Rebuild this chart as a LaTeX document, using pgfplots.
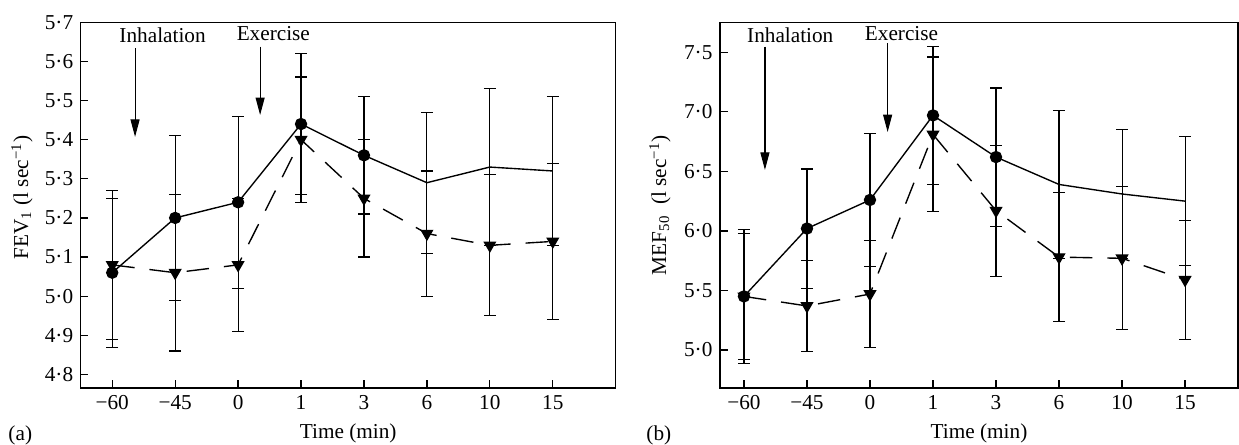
\documentclass[border=0pt]{standalone}
\usepackage{fontspec}
\setmainfont{Liberation Serif}
\usepackage{pgfplots}
\usepackage{pgfplotstable}
\pgfplotsset{compat=1.18}
\usetikzlibrary{arrows.meta}

% x is the category index: -60,-45,0,1,3,6,10,15 min
\pgfplotstableread{
x y e
0 5.06 0.19
1 5.20 0.21
2 5.24 0.22
3 5.44 0.18
4 5.36 0.15
5 5.29 0.18
6 5.33 0.20
7 5.32 0.19
}\fevcirc
\pgfplotstableread{
x y e
0 5.08 0.19
1 5.06 0.20
2 5.08 0.17
3 5.40 0.16
4 5.25 0.15
5 5.16 0.16
6 5.13 0.18
7 5.14 0.20
}\fevtri
\pgfplotstableread{
x y e
0 5.45 0.56
1 6.02 0.50
2 6.26 0.56
3 6.97 0.58
4 6.62 0.58
5 6.39 0.62
6 6.31 0.54
7 6.25 0.54
}\mefcirc
\pgfplotstableread{
x y e
0 5.45 0.53
1 5.37 0.38
2 5.47 0.45
3 6.81 0.65
4 6.17 0.55
5 5.78 0.54
6 5.77 0.60
7 5.59 0.50
}\meftri

\pgfplotsset{
  panel/.style={
    scale only axis, height=146.2pt, clip=false,
    axis line style={line width=0.6pt},
    tick style={black, line width=0.5pt},
    major tick length=3.1pt, tick align=inside,
    xtick pos=bottom, ytick pos=left,
    xtick={0,...,7},
    xticklabels={−60,−45,0,1,3,6,10,15},
    xlabel={Time (min)},
    xlabel style={at={(axis description cs:0.5,-0.124)}, anchor=center},
  },
  circ/.style={black, line width=0.55pt, mark=*, mark size=2.2pt,
    mark indices={1,2,3,4,5},
    error bars/.cd, y dir=both, y explicit,
    error bar style={line width=0.45pt, solid},
    error mark options={rotate=90, mark size=2.4pt, line width=0.45pt, solid}},
  tri/.style={black, line width=0.55pt, dash pattern=on 9pt off 6pt,
    mark=triangle*, mark size=2.5pt, mark options={solid, rotate=180},
    error bars/.cd, y dir=both, y explicit,
    error bar style={line width=0.45pt, solid},
    error mark options={rotate=90, mark size=2.4pt, line width=0.45pt, solid}},
}

\begin{document}
\fontsize{8.5}{10}\selectfont
\begin{tikzpicture}
\path[use as bounding box] (-32.3pt,-22.5pt) rectangle (463.3pt,155.1pt);

\begin{axis}[panel, width=214pt,
    xmin=-0.5, xmax=8, ymin=4.766, ymax=5.70,
    ytick={4.8,4.9,5.0,5.1,5.2,5.3,5.4,5.5,5.6,5.7},
    yticklabels={4·8,4·9,5·0,5·1,5·2,5·3,5·4,5·5,5·6,5·7},
    ylabel={FEV\textsubscript{1} (l sec\textsuperscript{−1})},
    ylabel style={at={(axis description cs:-0.11,0.52)}, anchor=center},
]
\addplot[circ] table[x=x, y=y, y error=e] {\fevcirc};
\addplot[tri] table[x=x, y=y, y error=e] {\fevtri};
\draw[line width=0.45pt, -{Triangle[length=7pt,width=3.6pt]}] (axis cs:0.363,5.633) -- (axis cs:0.363,5.407);
\draw[line width=0.45pt, -{Triangle[length=7pt,width=3.6pt]}] (axis cs:2.35,5.638) -- (axis cs:2.35,5.463);
\node at (axis cs:0.80,5.668) {Inhalation};
\node at (axis cs:2.56,5.672) {Exercise};
\node at (axis description cs:-0.113,-0.129) {(a)};
\end{axis}

\begin{axis}[panel, at={(255.7pt,0)}, width=207.2pt,
    xmin=-0.38, xmax=7.84, ymin=4.683, ymax=7.752,
    ytick={5.0,5.5,6.0,6.5,7.0,7.5},
    yticklabels={5·0,5·5,6·0,6·5,7·0,7·5},
    ylabel={MEF\textsubscript{50}\ \ (l sec\textsuperscript{−1})},
    ylabel style={at={(axis description cs:-0.116,0.5)}, anchor=center},
]
\addplot[circ] table[x=x, y=y, y error=e] {\mefcirc};
\addplot[tri] table[x=x, y=y, y error=e] {\meftri};
\draw[line width=0.45pt, -{Triangle[length=7pt,width=3.6pt]}] (axis cs:0.333,7.547) -- (axis cs:0.333,6.512);
\draw[line width=0.45pt, -{Triangle[length=7pt,width=3.6pt]}] (axis cs:2.28,7.576) -- (axis cs:2.28,6.83);
\node at (axis cs:0.735,7.645) {Inhalation};
\node at (axis cs:2.50,7.66) {Exercise};
\node at (axis description cs:-0.118,-0.129) {(b)};
\end{axis}
\end{tikzpicture}
\end{document}
